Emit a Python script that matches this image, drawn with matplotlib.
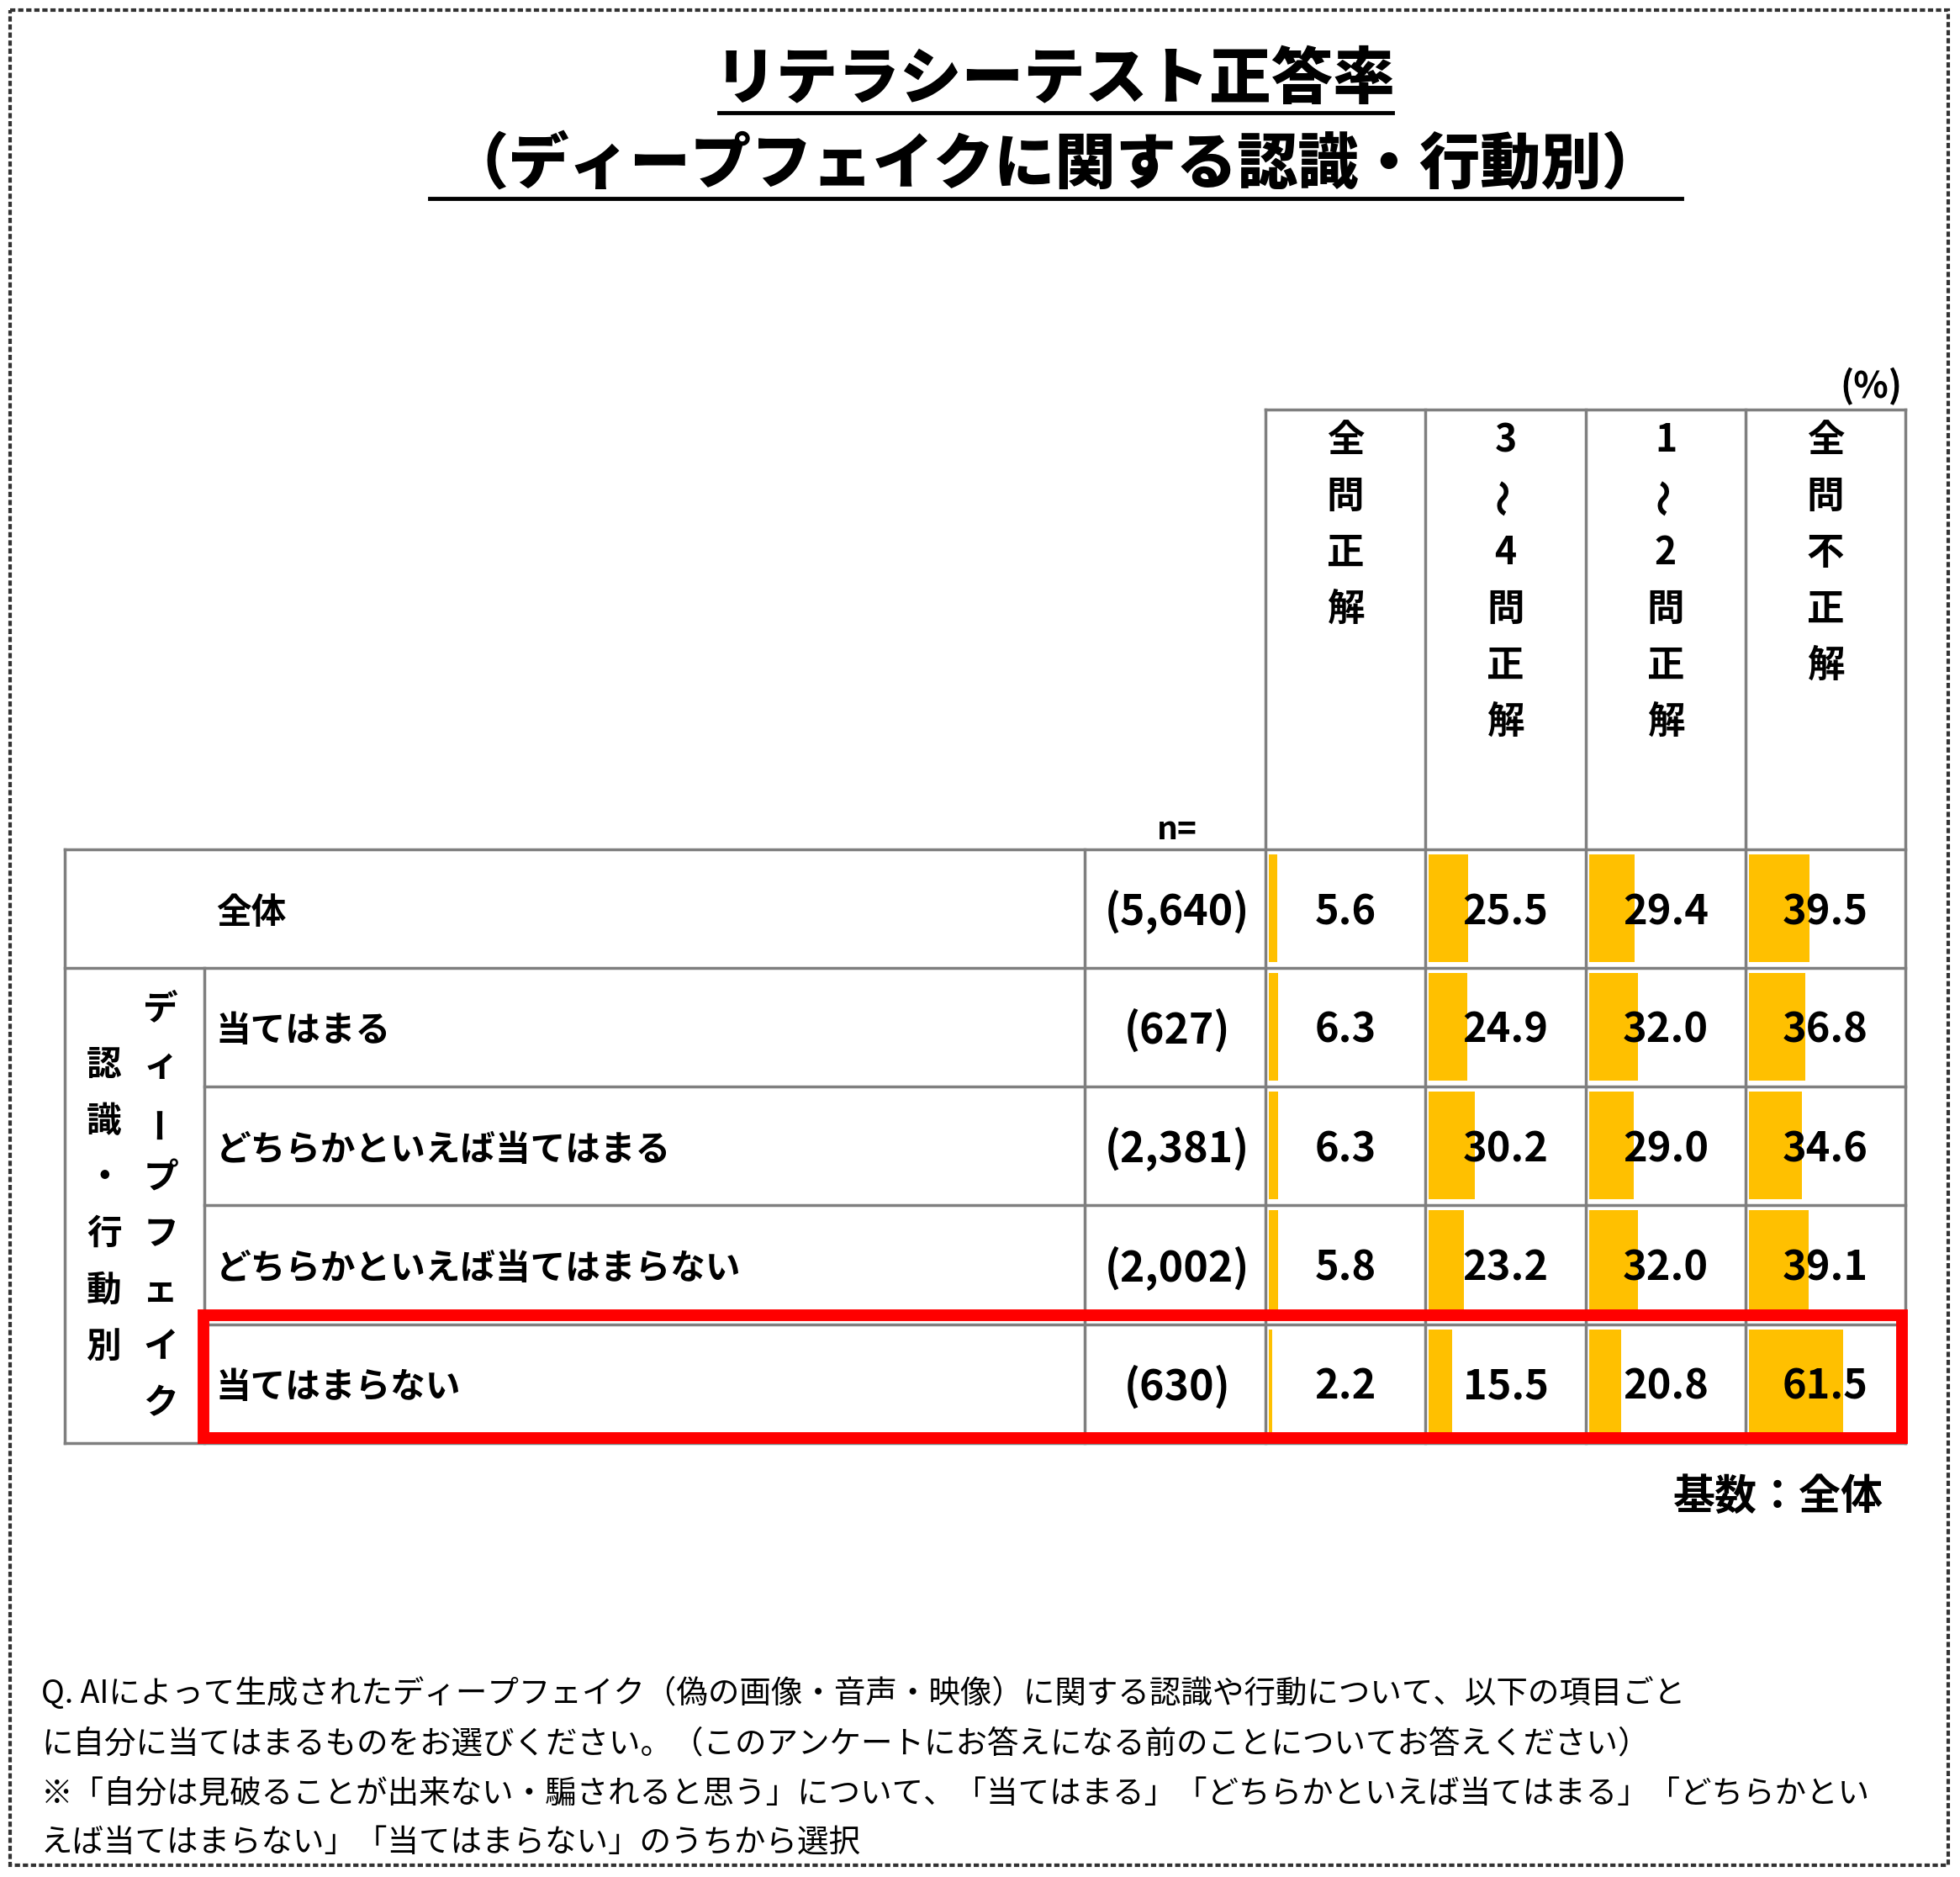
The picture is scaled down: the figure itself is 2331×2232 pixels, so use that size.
import matplotlib.pyplot as plt
from matplotlib.patches import Rectangle

plt.rcParams['font.family'] = ['Noto Sans CJK JP', 'DejaVu Sans']

# data
title_lines = ['リテラシーテスト正答率', '（ディープフェイクに関する認識・行動別）']
row_labels = ['全体', '当てはまる', 'どちらかといえば当てはまる',
              'どちらかといえば当てはまらない', '当てはまらない']
n_values = ['(5,640)', '(627)', '(2,381)', '(2,002)', '(630)']
col_labels = ['全問正解', '3～4問正解', '1～2問正解', '全問不正解']
all_correct = [5.6, 6.3, 6.3, 5.8, 2.2]
correct_3_4 = [25.5, 24.9, 30.2, 23.2, 15.5]
correct_1_2 = [29.4, 32.0, 29.0, 32.0, 20.8]
none_correct = [39.5, 36.8, 34.6, 39.1, 61.5]
group_outer = '認識・行動別'
group_inner = 'ディープフェイク'
base_note = '基数：全体'
notes = [
    'Q. AIによって生成されたディープフェイク（偽の画像・音声・映像）に関する認識や行動について、以下の項目ごと',
    'に自分に当てはまるものをお選びください。（このアンケートにお答えになる前のことについてお答えください）',
    '※「自分は見破ることが出来ない・騙されると思う」について、「当てはまる」「どちらかといえば当てはまる」「どちらかとい',
    'えば当てはまらない」「当てはまらない」のうちから選択',
]

series = [all_correct, correct_3_4, correct_1_2, none_correct]

# layout (pixel units)
W, H = 2331, 2232
col_x = [1505, 1695, 1886, 2076, 2266]
row_y = [1010, 1151, 1292, 1433, 1575, 1716]
tbl_left, sub_left, n_left = 77, 243, 1290
head_top = 487
grid_c = '#7f7f7f'
grid_lw = 2.5
bar_c = '#FFC000'

fig = plt.figure(figsize=(W / 100, H / 100), dpi=100)
ax = fig.add_axes([0, 0, 1, 1])
ax.set_xlim(0, W)
ax.set_ylim(H, 0)
ax.axis('off')

# dashed frame
ax.add_patch(Rectangle((12, 12), W - 26, H - 26, fill=False, ec='#333333',
                       lw=3, ls=(0, (1.5, 0.8))))

# title
ax.text(1255, 95, title_lines[0], ha='center', va='center', fontsize=53, fontweight='black')
ax.plot([855, 1656], [134, 134], color='black', lw=3.5)
ax.text(1255, 197, title_lines[1], ha='center', va='center', fontsize=52, fontweight='black')
ax.plot([511, 2000], [236, 236], color='black', lw=3.5)

# header box
ax.text(2262, 460, '(%)', ha='right', va='center', fontsize=31, fontweight='bold')
ax.plot([col_x[0], col_x[-1]], [head_top, head_top], color=grid_c, lw=grid_lw)
for x in col_x:
    ax.plot([x, x], [head_top, row_y[-1]], color=grid_c, lw=grid_lw)
for j, lab in enumerate(col_labels):
    cx = (col_x[j] + col_x[j + 1]) / 2
    for k, ch in enumerate(lab):
        rot = 90 if ch == '～' else 0
        ax.text(cx, 524 + k * 67, ch, ha='center', va='center', fontsize=32,
                fontweight='bold', rotation=rot)
ax.text(1400, 986, 'n=', ha='center', va='center', fontsize=28, fontweight='bold')

# table grid
for i, y in enumerate(row_y):
    x0 = tbl_left if i in (0, 1, len(row_y) - 1) else sub_left
    ax.plot([x0, col_x[-1]], [y, y], color=grid_c, lw=grid_lw)
ax.plot([tbl_left, tbl_left], [row_y[0], row_y[-1]], color=grid_c, lw=grid_lw)
ax.plot([sub_left, sub_left], [row_y[1], row_y[-1]], color=grid_c, lw=grid_lw)
ax.plot([n_left, n_left], [row_y[0], row_y[-1]], color=grid_c, lw=grid_lw)

# bars and values
for j, vals in enumerate(series):
    cw = col_x[j + 1] - col_x[j] - 8
    cx = (col_x[j] + col_x[j + 1]) / 2
    for i, v in enumerate(vals):
        top = row_y[i] + 6
        h = row_y[i + 1] - row_y[i] - 13
        ax.barh(top + h / 2, v / 100 * cw, height=h, left=col_x[j] + 4,
                color=bar_c, zorder=1)
        ax.text(cx, (row_y[i] + row_y[i + 1]) / 2 + 4, f'{v:.1f}', ha='center',
                va='center', fontsize=35, fontweight='bold', zorder=3)

# row labels and n
for i, lab in enumerate(row_labels):
    cy = (row_y[i] + row_y[i + 1]) / 2
    ax.text(257, cy + 5, lab, ha='left', va='center', fontsize=30, fontweight='bold')
    ax.text(1400, cy + 4, n_values[i], ha='center', va='center', fontsize=36,
            fontweight='bold')

# group labels (vertical)
for k, ch in enumerate(group_outer):
    ax.text(124, 1267 + k * 67, ch, ha='center', va='center', fontsize=30, fontweight='bold')
for k, ch in enumerate(group_inner):
    rot = 90 if ch == 'ー' else 0
    ax.text(191, 1200 + k * 67, ch, ha='center', va='center', fontsize=30,
            fontweight='bold', rotation=rot)

# highlight box
ax.add_patch(Rectangle((242, 1564), 2262 - 242, 1710 - 1564, fill=False,
                       ec='#FF0000', lw=10, zorder=5))

ax.text(2240, 1780, base_note, ha='right', va='center', fontsize=36, fontweight='bold')

# notes
for k, line in enumerate(notes):
    ax.text(49, 2015 + k * 59, line, ha='left', va='center', fontsize=27)

fig.savefig('out.png', dpi=100)
